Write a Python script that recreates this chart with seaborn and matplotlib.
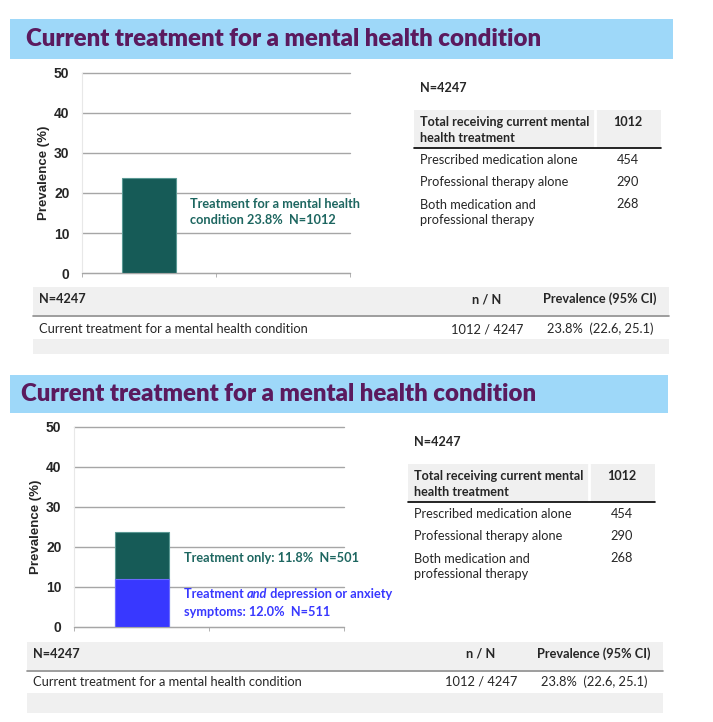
import matplotlib
matplotlib.use("Agg")
import matplotlib.pyplot as plt
from matplotlib.patches import Rectangle
import pandas as pd
import seaborn as sns

# data
title = "Current treatment for a mental health condition"
sample_n = 4247
total_treated = 1012
prev_total = 23.8
prev_only = 11.8
prev_dep = 12.0
y_ticks = [0, 10, 20, 30, 40, 50]
y_label = "Prevalence (%)"
note_total = "Treatment for a mental health\ncondition 23.8%  N=1012"
note_only = "Treatment only: 11.8%  N=501"
note_dep = ["Treatment ", "and", " depression or anxiety"]
note_dep_line2 = "symptoms: 12.0%  N=511"
breakdown_header = "Total receiving current mental\nhealth treatment"
breakdown_labels = ["Prescribed medication alone", "Professional therapy alone",
                    "Both medication and\nprofessional therapy"]
breakdown_counts = [454, 290, 268]
summary_cols = ["N=4247", "n / N", "Prevalence (95% CI)"]
summary_row = ["Current treatment for a mental health condition", "1012 / 4247",
               "23.8%  (22.6, 25.1)"]

# colours
banner_col = "#9ED8F9"
title_col = "#5B1A5E"
teal = "#165B57"
teal_txt = "#1D6660"
blue = "#3838FF"
grid_col = "#A6A6A6"
band_col = "#F0F0F0"

sns.set_style("white")
plt.rcParams["font.family"] = ["Lato", "DejaVu Sans"]

W, H = 713, 722
fig = plt.figure(figsize=(W / 100, H / 100), dpi=100)

# pixel overlay for banners, notes and tables
ov = fig.add_axes([0, 0, 1, 1], zorder=2)
ov.set_xlim(0, W)
ov.set_ylim(H, 0)
ov.axis("off")


def px_axes(left, right, top, bottom):
    ax = fig.add_axes([left / W, 1 - bottom / H, (right - left) / W, (bottom - top) / H], zorder=1)
    ax.patch.set_visible(False)
    return ax


def style_chart(ax):
    ax.set_xlim(-0.5, 1.5)
    ax.set_ylim(0, 50)
    ax.set_yticks(y_ticks, labels=[str(t) for t in y_ticks], fontweight="bold",
                  fontsize=10, family="Liberation Sans")
    ax.yaxis.grid(True, color=grid_col, lw=1)
    for gl in ax.get_ygridlines():
        gl.set_clip_on(False)
    ax.set_axisbelow(True)
    ax.spines["top"].set_visible(False)
    ax.spines["right"].set_visible(False)
    ax.spines["left"].set_color("#E8E8E8")
    ax.spines["bottom"].set_color(grid_col)
    ax.tick_params(axis="y", length=4, color=grid_col, pad=5)
    ax.set_xticks([])
    ax.set_xticks([-0.5, 0.5, 1.5], minor=True)
    ax.tick_params(axis="x", which="minor", length=3, color=grid_col, bottom=True)
    ax.set_xlabel("")
    ax.set_ylabel(y_label, fontweight="bold", fontsize=9.5, family="Liberation Sans", labelpad=3)


def banner(x0, x1, y0, y1, tx):
    ov.add_patch(Rectangle((x0, y0), x1 - x0, y1 - y0, color=banner_col, lw=0))
    ov.text(tx, (y0 + y1) / 2, title, color=title_col, fontsize=17.3, fontweight=800, va="center")


def breakdown_table(x0, x1, sep, val_x, n_y, top):
    fb, fr = 9.1, 9.2
    ov.text(x0 + 6, n_y, f"N={sample_n}", fontsize=fb, fontweight="bold", va="center")
    ov.add_patch(Rectangle((x0, top), x1 - x0, 38, color=band_col, lw=0))
    ov.plot([sep, sep], [top, top + 38], color="white", lw=2)
    ov.plot([x0, x1], [top + 38, top + 38], color="black", lw=1.2)
    ov.text(x0 + 6, top + 20, breakdown_header, fontsize=fb, fontweight="bold", va="center",
            linespacing=1.3)
    ov.text(val_x, top + 12, str(total_treated), fontsize=fb, fontweight="bold", va="center",
            ha="center")
    for i, (lab, cnt) in enumerate(zip(breakdown_labels, breakdown_counts)):
        y = top + 50 + 22 * i
        n_lines = lab.count("\n") + 1
        ov.text(x0 + 6, y + 8.5 * (n_lines - 1), lab, fontsize=fr, va="center", linespacing=1.35)
        ov.text(val_x, y, str(cnt), fontsize=fr, va="center", ha="center")


def summary_table(x0, x1, top, row_y, band2, c2, c3):
    fb, fr = 9.2, 9.3
    ov.add_patch(Rectangle((x0, top), x1 - x0, 28, color=band_col, lw=0))
    ov.plot([x0, x1], [top + 29, top + 29], color="#8C8C8C", lw=1.2)
    ov.text(x0 + 6, top + 12, summary_cols[0], fontsize=fb, fontweight="bold", va="center")
    ov.text(x0 + 6, row_y, summary_row[0], fontsize=fr, va="center")
    for x, h, v in zip([c2, c3], summary_cols[1:], summary_row[1:]):
        ov.text(x, top + 12, h, fontsize=fb, fontweight="bold", va="center", ha="center")
        ov.text(x, row_y, v, fontsize=fr, va="center", ha="center")
    ov.add_patch(Rectangle((x0, band2[0]), x1 - x0, band2[1] - band2[0], color=band_col, lw=0))


# ---- panel 1
banner(10, 673, 19, 59, 26)
ax1 = px_axes(82, 350, 73, 273)
df1 = pd.DataFrame({"group": ["Treatment"], "prevalence": [prev_total]})
sns.barplot(data=df1, x="group", y="prevalence", color=teal, width=0.4,
            edgecolor="#5A9893", linewidth=0.8, saturation=1, ax=ax1)
style_chart(ax1)
ov.text(190, 212.5, note_total, color=teal_txt, fontsize=9.2, fontweight="bold",
        va="center", linespacing=1.4)
breakdown_table(414, 661, 595, 628, 88, 110)
summary_table(33, 669, 287, 329, (339, 354), 487, 600)

# ---- panel 2
banner(10, 668, 375, 413, 21)
ax2 = px_axes(74, 344, 427, 627)
df2 = pd.DataFrame({"group": ["Treatment", "Treatment"],
                    "segment": ["Treatment only", "Treatment and symptoms"],
                    "prevalence": [prev_only, prev_dep]})
df2_total = df2.groupby("group", as_index=False)["prevalence"].sum()
sns.barplot(data=df2_total, x="group", y="prevalence", color=teal, width=0.4,
            edgecolor="#5A9893", linewidth=0.8, saturation=1, ax=ax2)
sns.barplot(data=df2[df2.segment == "Treatment and symptoms"], x="group", y="prevalence",
            color=blue, width=0.4, edgecolor="#6A6AFF", linewidth=0.8, saturation=1, ax=ax2)
style_chart(ax2)
ov.text(184, 558, note_only, color=teal_txt, fontsize=9.2, fontweight="bold", va="center")
t = ov.text(184, 594, note_dep[0], color=blue, fontsize=9.2, fontweight="bold", va="center")
t = ov.annotate(note_dep[1], xy=(1, 0), xycoords=t, va="bottom", color=blue, fontsize=9.2,
                fontweight="bold", fontstyle="italic")
ov.annotate(note_dep[2], xy=(1, 0), xycoords=t, va="bottom", color=blue, fontsize=9.2,
            fontweight="bold")
ov.text(184, 612, note_dep_line2, color=blue, fontsize=9.2, fontweight="bold", va="center")
breakdown_table(408, 655, 589, 622, 442, 464)
summary_table(27, 663, 642, 682, (693, 713), 481, 594)

fig.savefig("out.png", dpi=100)
